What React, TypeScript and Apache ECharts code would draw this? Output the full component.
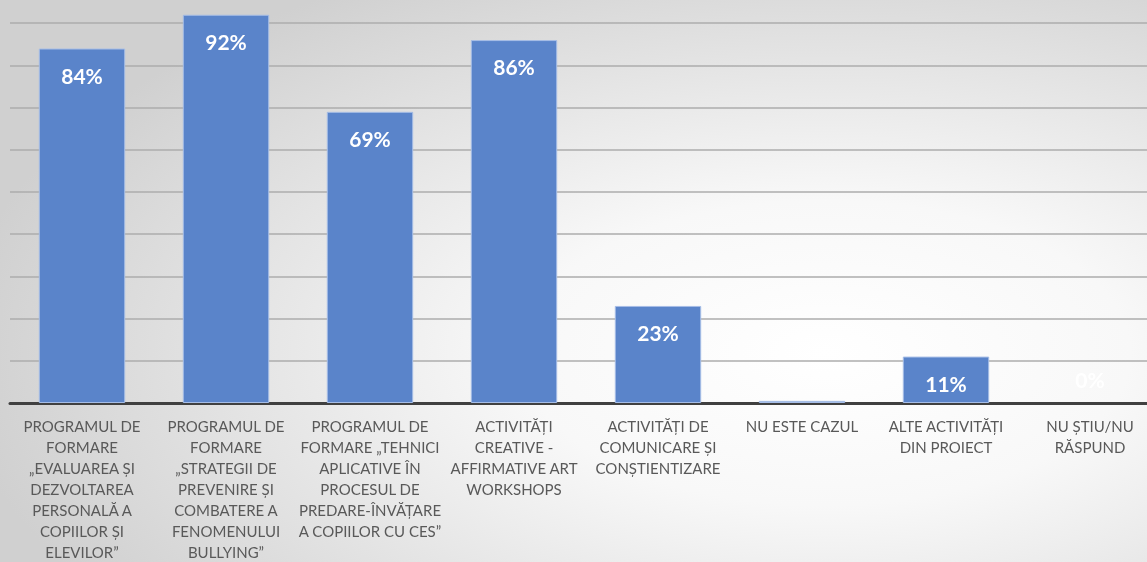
import React, { useEffect, useRef } from "react";
import * as echarts from "echarts";

const categories = [
  "PROGRAMUL DE\nFORMARE\n„EVALUAREA ȘI\nDEZVOLTAREA\nPERSONALĂ A\nCOPIILOR ȘI\nELEVILOR”",
  "PROGRAMUL DE\nFORMARE\n„STRATEGII DE\nPREVENIRE ȘI\nCOMBATERE A\nFENOMENULUI\nBULLYING”",
  "PROGRAMUL DE\nFORMARE „TEHNICI\nAPLICATIVE ÎN\nPROCESUL DE\nPREDARE-ÎNVĂȚARE\nA COPIILOR CU CES”",
  "ACTIVITĂȚI\nCREATIVE -\nAFFIRMATIVE ART\nWORKSHOPS",
  "ACTIVITĂȚI DE\nCOMUNICARE ȘI\nCONȘTIENTIZARE",
  "NU ESTE CAZUL",
  "ALTE ACTIVITĂȚI\nDIN PROIECT",
  "NU ȘTIU/NU\nRĂSPUND",
];
const values = [84, 92, 69, 86, 23, 0.5, 11, 0];
const valueLabels = ["84%", "92%", "69%", "86%", "23%", "", "11%", "0%"];

export default function App() {
  const ref = useRef<HTMLDivElement>(null);
  useEffect(() => {
    if (!ref.current) return;
    const chart = echarts.init(ref.current, undefined, { renderer: "svg" });
    const font = "Lato, 'Open Sans', sans-serif";
    chart.setOption({
      animation: false,
      backgroundColor: {
        type: "radial",
        x: 0.71,
        y: 0.64,
        r: 0.75,
        colorStops: [
          { offset: 0, color: "#ffffff" },
          { offset: 0.35, color: "#f8f8f8" },
          { offset: 1, color: "#d0d0d0" },
        ],
      },
      grid: { left: 10, right: 0, top: 0, bottom: 158, containLabel: false },
      xAxis: {
        type: "category",
        data: categories,
        axisTick: { show: false },
        axisLine: { show: true, lineStyle: { color: "#404040", width: 3 } },
        axisLabel: {
          interval: 0,
          margin: 12,
          fontFamily: font,
          fontSize: 15,
          lineHeight: 21,
          color: "#595959",
          align: "center",
        },
      },
      yAxis: {
        type: "value",
        min: 0,
        max: 100,
        interval: 10,
        axisLabel: { show: false },
        axisLine: { show: false },
        axisTick: { show: false },
        splitLine: { lineStyle: { color: "#adadad", width: 1.5 } },
      },
      series: [
        {
          type: "bar",
          barWidth: "60%",
          data: values.map((v, i) => ({
            value: v,
            itemStyle: v === 0 ? { borderWidth: 0 } : undefined,
            label:
              v <= 0.5
                ? { show: valueLabels[i] !== "", position: "top", distance: 13 }
                : { show: true, position: "insideTop", distance: 16 },
          })),
          itemStyle: {
            color: "#5a84ca",
            borderColor: "#a6bde6",
            borderWidth: 1,
          },
          label: {
            show: true,
            formatter: (p: any) => valueLabels[p.dataIndex],
            color: "#ffffff",
            fontFamily: font,
            fontWeight: "bold",
            fontSize: 21,
          },
        },
      ],
    });
    return () => chart.dispose();
  }, []);
  return (
    <div
      style={{
        position: "fixed",
        left: 0,
        top: 0,
        width: 1147,
        height: 562,
        overflow: "hidden",
      }}
    >
      <div
        ref={ref}
        style={{ position: "absolute", left: 0, top: -19, width: 1162, height: 581 }}
      />
    </div>
  );
}
